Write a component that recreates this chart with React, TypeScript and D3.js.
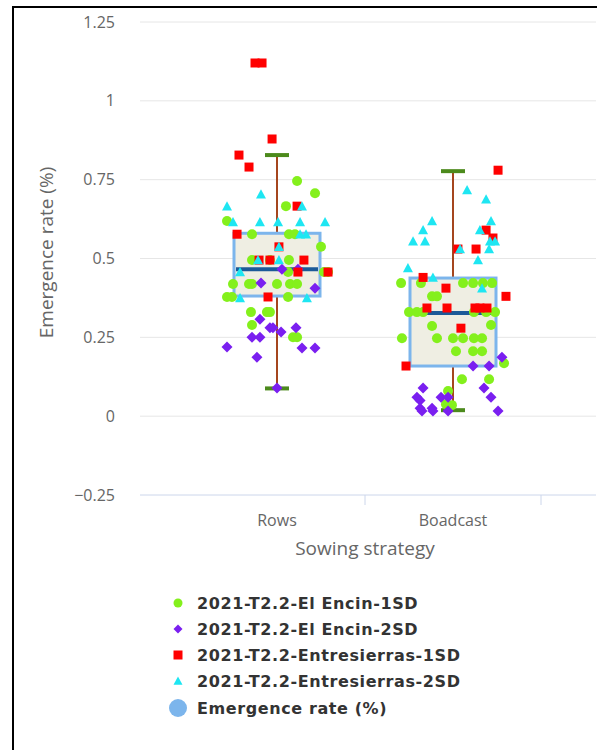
import React from "react";
import * as d3 from "d3";

const categories = ["Rows", "Boadcast"];
const yTicks = [-0.25, 0, 0.25, 0.5, 0.75, 1, 1.25];
const yTickLabels = ["−0.25", "0", "0.25", "0.5", "0.75", "1", "1.25"];

// box plot: [low, q1, median, q3, high]
const boxData: [number, number, number, number, number][] = [
  [0.088, 0.381, 0.466, 0.58, 0.828],
  [0.019, 0.159, 0.327, 0.438, 0.777],
];

// scatter series: [x (category units, jittered), y]
const encin1: [number, number][] = [
  [0.114, 0.746], [0.216, 0.707], [0.051, 0.666], [-0.284, 0.619], [-0.142, 0.577],
  [0.068, 0.577], [0.102, 0.577], [0.25, 0.537], [-0.142, 0.495], [-0.04, 0.495],
  [0.068, 0.495], [0.063, 0.457], [0.267, 0.457], [0.29, 0.457], [-0.25, 0.419],
  [-0.159, 0.419], [-0.142, 0.419], [0, 0.419], [0.074, 0.419], [0.114, 0.419],
  [-0.284, 0.378], [-0.256, 0.378], [0.063, 0.378], [-0.148, 0.33], [-0.057, 0.33],
  [-0.04, 0.33], [-0.142, 0.289], [0.091, 0.25], [0.114, 0.25],
  [0.705, 0.422], [0.818, 0.422], [1.057, 0.422], [1.114, 0.422], [1.17, 0.422],
  [1.222, 0.422], [0.881, 0.38], [0.909, 0.38], [0.75, 0.33], [0.795, 0.33],
  [0.83, 0.33], [1.119, 0.33], [1.188, 0.33], [1.239, 0.33], [0.881, 0.286],
  [1.216, 0.289], [0.71, 0.247], [0.909, 0.247], [1.0, 0.247], [1.057, 0.247],
  [1.119, 0.247], [1.165, 0.247], [1.017, 0.206], [1.114, 0.206], [1.165, 0.206],
  [1.29, 0.168], [1.051, 0.117], [1.205, 0.117], [0.972, 0.08], [0.96, 0.038],
  [0.994, 0.035],
];
const encin2: [number, number][] = [
  [0.028, 0.466], [0.119, 0.466], [-0.091, 0.422], [0.216, 0.406], [-0.097, 0.307],
  [-0.04, 0.28], [-0.023, 0.28], [0.108, 0.28], [0.023, 0.267], [-0.142, 0.25],
  [-0.097, 0.25], [-0.284, 0.219], [0.142, 0.216], [0.216, 0.216], [-0.114, 0.187],
  [0, 0.089],
  [1.278, 0.187], [1.114, 0.159], [1.205, 0.159], [0.83, 0.089], [1.176, 0.089],
  [0.795, 0.06], [0.813, 0.05], [0.932, 0.06], [0.972, 0.06], [1.216, 0.06],
  [0.813, 0.025], [0.824, 0.016], [0.881, 0.025], [0.886, 0.016], [0.972, 0.016],
  [1.256, 0.016],
];
const entre1: [number, number][] = [
  [-0.125, 1.12], [-0.085, 1.12], [-0.028, 0.879], [-0.216, 0.828], [-0.159, 0.79],
  [0.114, 0.666], [-0.227, 0.577], [0.011, 0.537], [-0.102, 0.495], [-0.04, 0.495],
  [0.153, 0.495], [0.119, 0.457], [0.29, 0.457], [-0.051, 0.378],
  [1.256, 0.78], [1.188, 0.59], [1.227, 0.565], [1.028, 0.53], [1.131, 0.53],
  [0.83, 0.44], [0.96, 0.406], [1.301, 0.38], [0.852, 0.343], [0.966, 0.343],
  [1.125, 0.343], [1.153, 0.343], [1.193, 0.343], [1.045, 0.279], [0.733, 0.159],
];
const entre2: [number, number][] = [
  [-0.091, 0.704], [-0.284, 0.666], [0.142, 0.666], [-0.25, 0.616], [-0.097, 0.616],
  [0.006, 0.616], [0.131, 0.616], [0.273, 0.616], [0.131, 0.577], [0.165, 0.577],
  [0.011, 0.537], [-0.108, 0.495], [0.011, 0.495], [-0.21, 0.457], [-0.21, 0.375],
  [0.17, 0.375],
  [1.08, 0.717], [1.188, 0.688], [0.881, 0.619], [1.216, 0.619], [0.83, 0.59],
  [1.153, 0.59], [0.773, 0.555], [0.841, 0.555], [1.21, 0.555], [1.239, 0.555],
  [1.04, 0.53], [1.205, 0.53], [1.142, 0.495], [0.744, 0.47], [0.886, 0.44],
  [1.165, 0.406],
];

const seriesNames = [
  "2021-T2.2-El Encin-1SD",
  "2021-T2.2-El Encin-2SD",
  "2021-T2.2-Entresierras-1SD",
  "2021-T2.2-Entresierras-2SD",
];
const boxName = "Emergence rate (%)";

const COLORS = ["#84f01c", "#7a1ff0", "#ff0000", "#1ee6f2"];
const SHAPES = ["circle", "diamond", "square", "triangle"];

function shapePath(shape: string, s: number): string {
  if (shape === "circle") {
    const p = d3.path();
    p.arc(0, 0, s, 0, Math.PI * 2);
    return p.toString();
  }
  if (shape === "square") return `M${-s},${-s}H${s}V${s}H${-s}Z`;
  if (shape === "diamond") return `M0,${-s}L${s},0L0,${s}L${-s},0Z`;
  return `M0,${-s}L${s},${s * 0.85}L${-s},${s * 0.85}Z`;
}

export default function App() {
  const W = 597, H = 750;
  const plotLeft = 140, plotRight = 596;
  const x = d3.scaleLinear().domain([-0.5, 1.5]).range([189, 541]);
  const y = d3.scaleLinear().domain([-0.25, 1.25]).range([495, 22]);
  const font = "'Open Sans', sans-serif";
  const legendFont = "'DejaVu Sans', sans-serif";
  const all = [encin1, encin2, entre1, entre2];
  const sizes = [5, 5.5, 4.5, 5];
  const boxHalf = 43;

  return (
    <svg width={W} height={H} style={{ position: "absolute", left: 0, top: 0, background: "#fff" }}>
      <rect x={13} y={7} width={700} height={800} fill="#fff" stroke="#000" strokeWidth={2} />
      {/* grid */}
      {yTicks.slice(1).map((t) => (
        <line key={t} x1={plotLeft} x2={plotRight} y1={y(t)} y2={y(t)} stroke="#e6e6e6" strokeWidth={1} />
      ))}
      <line x1={plotLeft} x2={plotRight} y1={y(-0.25)} y2={y(-0.25)} stroke="#ccd6eb" strokeWidth={1} />
      {[0.5, 1.5].map((t) => (
        <line key={t} x1={x(t)} x2={x(t)} y1={y(-0.25)} y2={y(-0.25) + 10} stroke="#ccd6eb" strokeWidth={1} />
      ))}
      {yTicks.map((t, i) => (
        <text key={t} x={115} y={y(t) + 5.5} textAnchor="end" fontFamily={font} fontSize={16} fill="#666">
          {yTickLabels[i]}
        </text>
      ))}
      {categories.map((c, i) => (
        <text key={c} x={x(i)} y={526} textAnchor="middle" fontFamily={font} fontSize={16} fill="#666">
          {c}
        </text>
      ))}
      <text x={x(0.5)} y={555} textAnchor="middle" fontFamily={font} fontSize={19} fill="#666">
        Sowing strategy
      </text>
      <text
        transform={`translate(53,${y(0.5) - 6}) rotate(-90)`}
        textAnchor="middle"
        fontFamily={font}
        fontSize={19}
        fill="#666"
      >
        {boxName}
      </text>
      {/* box plots */}
      {boxData.map((b, i) => {
        const cx = x(i);
        return (
          <g key={i}>
            <line x1={cx} x2={cx} y1={y(b[0])} y2={y(b[4])} stroke="#a5461e" strokeWidth={2} />
            <line x1={cx - 12} x2={cx + 12} y1={y(b[4])} y2={y(b[4])} stroke="#4c8a1c" strokeWidth={4} />
            <line x1={cx - 12} x2={cx + 12} y1={y(b[0])} y2={y(b[0])} stroke="#4c8a1c" strokeWidth={4} />
            <rect
              x={cx - boxHalf}
              y={y(b[3])}
              width={boxHalf * 2}
              height={y(b[1]) - y(b[3])}
              fill="#efeee3"
              stroke="#7cb5ec"
              strokeWidth={3}
            />
            <line x1={cx - boxHalf + 2} x2={cx + boxHalf - 2} y1={y(b[2])} y2={y(b[2])} stroke="#1c5a98" strokeWidth={4} />
          </g>
        );
      })}
      {/* scatter */}
      {all.map((s, si) => (
        <g key={si}>
          {s.map((d, j) => (
            <path
              key={j}
              d={shapePath(SHAPES[si], sizes[si])}
              transform={`translate(${x(d[0])},${y(d[1])})`}
              fill={COLORS[si]}
            />
          ))}
        </g>
      ))}
      {/* legend */}
      {seriesNames.map((n, i) => (
        <g key={n} transform={`translate(178,${603 + i * 26})`}>
          <path d={shapePath(SHAPES[i], 4.5)} fill={COLORS[i]} />
          <text x={19} y={6} fontFamily={legendFont} fontWeight="bold" fontSize={16} letterSpacing={0.6} fill="#333">
            {n}
          </text>
        </g>
      ))}
      <g transform={`translate(178,${603 + 4 * 26 + 1})`}>
        <circle r={9} fill="#7cb5ec" />
        <text x={19} y={6} fontFamily={legendFont} fontWeight="bold" fontSize={16} letterSpacing={0.6} fill="#333">
          {boxName}
        </text>
      </g>
    </svg>
  );
}
